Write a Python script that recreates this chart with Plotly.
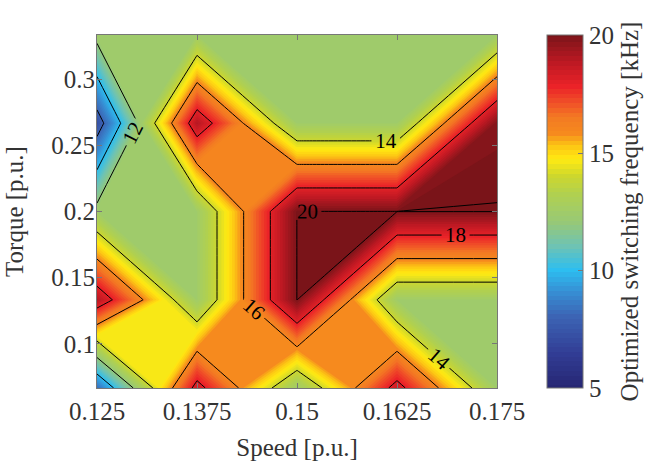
import plotly.graph_objects as go

# ---- data ----
speed = [0.125, 0.1375, 0.15, 0.1625, 0.175]                 # p.u.
torque = [0.0667, 0.1333, 0.2, 0.2667, 0.3333]               # p.u.
# optimized switching frequency [kHz], rows = torque, cols = speed
freq_t1 = [8.3, 18.5, 12.5, 18.5, 12.5]    # torque 0.0667
freq_t2 = [19.0, 12.5, 20.0, 12.5, 12.5]   # torque 0.1333
freq_t3 = [12.5, 12.5, 20.0, 20.0, 20.0]   # torque 0.2
freq_t4 = [7.2, 19.0, 12.5, 12.5, 19.9]    # torque 0.2667
freq_t5 = [12.5, 12.5, 12.5, 12.5, 12.5]   # torque 0.3333
freq = [freq_t1, freq_t2, freq_t3, freq_t4, freq_t5]

xtick_vals = [0.125, 0.1375, 0.15, 0.1625, 0.175]
xtick_text = ["0.125", "0.1375", "0.15", "0.1625", "0.175"]
ytick_vals = [0.1, 0.15, 0.2, 0.25, 0.3]
ytick_text = ["0.1", "0.15", "0.2", "0.25", "0.3"]
cbar_ticks = [5, 10, 15, 20]
line_levels = [8, 10, 12, 14, 16, 18]

# colormap stops (value, rgb)
cmap_stops = [
    (5.0, (38, 38, 115)), (6.5, (50, 62, 150)), (8.0, (60, 100, 180)),
    (9.0, (55, 140, 210)), (10.0, (45, 190, 240)), (11.0, (110, 195, 180)),
    (12.0, (150, 200, 120)), (12.6, (164, 205, 100)), (13.2, (176, 208, 80)),
    (14.0, (205, 215, 45)), (14.7, (255, 235, 18)), (15.3, (252, 195, 20)),
    (15.8, (246, 138, 30)), (16.5, (243, 122, 35)), (17.1, (240, 80, 40)),
    (17.8, (235, 35, 40)), (18.8, (190, 25, 35)), (20.0, (122, 20, 25)),
]
vmin, vmax = 5.0, 20.0
colorscale = [[(v - vmin) / (vmax - vmin), "rgb(%d,%d,%d)" % c] for v, c in cmap_stops]

FONT = "Liberation Serif"
TXT = "#333333"
AX = "#777777"

fig = go.Figure()

# filled contours with many fine levels (shaded look of the reference)
fig.add_trace(go.Contour(
    x=speed, y=torque, z=freq,
    colorscale=colorscale, zmin=vmin, zmax=vmax,
    autocontour=False,
    contours=dict(start=5.13, end=19.93, size=0.2, coloring="fill", showlines=False),
    line=dict(width=0, smoothing=0),
    colorbar=dict(
        x=1.125, xanchor="left", xpad=0, y=0.5, yanchor="middle", ypad=0,
        len=1, lenmode="fraction", thickness=36,
        outlinecolor=AX, outlinewidth=1,
        tickmode="array", tickvals=cbar_ticks, ticks="inside", ticklen=5, tickcolor=AX,
        tickfont=dict(family=FONT, size=25, color=TXT),
        title=dict(text="Optimized switching frequency [kHz]", side="right",
                   font=dict(family=FONT, size=25, color=TXT)),
    ),
    hoverinfo="skip",
))

# black iso-lines with labels
fig.add_trace(go.Contour(
    x=speed, y=torque, z=freq, autocontour=False,
    contours=dict(start=line_levels[0], end=line_levels[-1], size=2, coloring="none",
                  showlabels=True,
                  labelfont=dict(family=FONT, size=21, color="black")),
    line=dict(width=1, color="black", smoothing=0),
    showscale=False, hoverinfo="skip",
))
fig.add_trace(go.Contour(
    x=speed, y=torque, z=freq, autocontour=False,
    contours=dict(start=19.99, end=19.99, size=1, coloring="none", showlabels=True,
                  labelformat=".0f",
                  labelfont=dict(family=FONT, size=21, color="black")),
    line=dict(width=1, color="black", smoothing=0),
    showscale=False, hoverinfo="skip",
))

axis_common = dict(
    showline=True, linecolor=AX, linewidth=1, mirror="ticks",
    ticks="inside", ticklen=5, tickcolor=AX, showgrid=False, zeroline=False,
    tickfont=dict(family=FONT, size=25, color=TXT), automargin=False,
)
fig.update_xaxes(range=[0.125, 0.175], tickmode="array", tickvals=xtick_vals,
                 ticktext=xtick_text, ticklabelstandoff=1,
                 title=dict(text="Speed [p.u.]", font=dict(family=FONT, size=25, color=TXT),
                            standoff=14),
                 **axis_common)
fig.update_yaxes(range=[0.0667, 0.3333], tickmode="array", tickvals=ytick_vals,
                 ticktext=ytick_text, ticklabelstandoff=-4,
                 title=dict(text="Torque [p.u.]", font=dict(family=FONT, size=25, color=TXT),
                            standoff=20),
                 **axis_common)

fig.update_layout(
    width=655, height=467,
    margin=dict(l=97, r=158, t=35, b=79, autoexpand=False),
    paper_bgcolor="white", plot_bgcolor="white",
    showlegend=False,
)

fig.write_html("out.html", post_script="document.body.style.margin='0';",
               config={"displayModeBar": False})
